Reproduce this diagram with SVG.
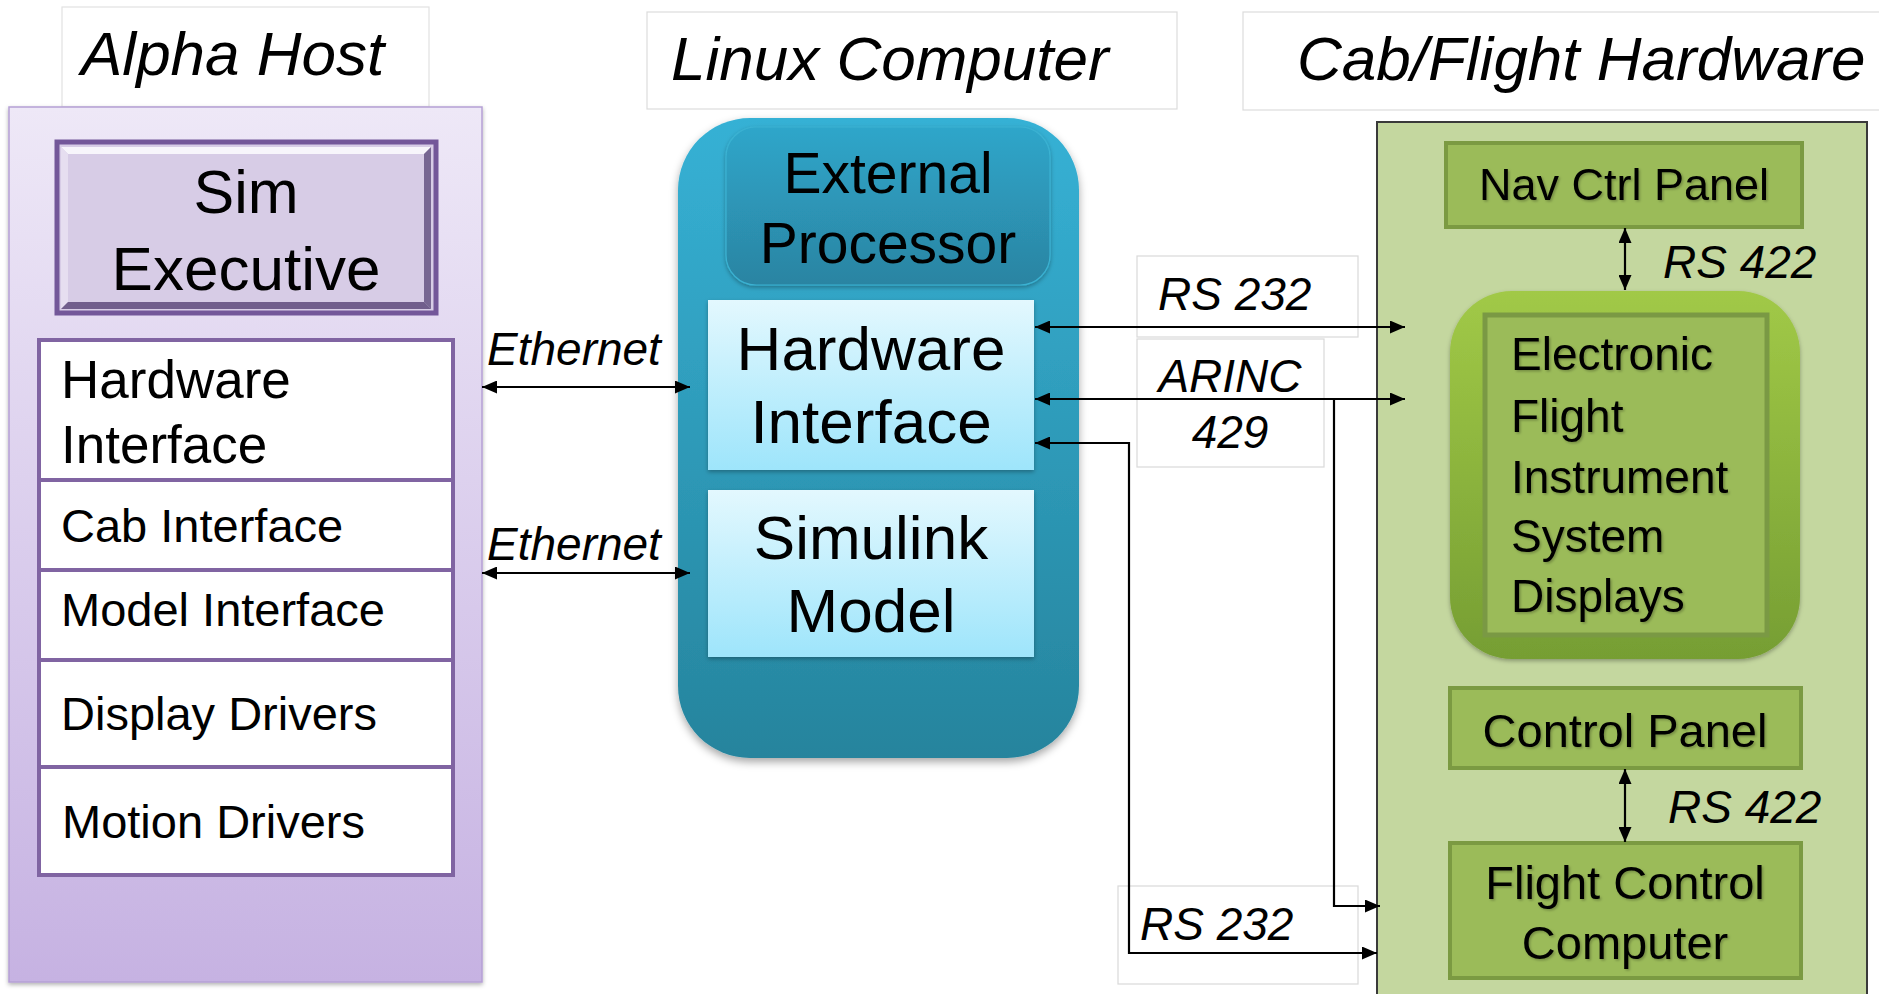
<svg xmlns="http://www.w3.org/2000/svg" width="1879" height="994" viewBox="0 0 1879 994">
<style>
text{font-family:"Liberation Sans",Arial,sans-serif;fill:#000}
.ti{font-style:italic;font-size:62px}
.it{font-style:italic}
.lbl{fill:#fff;stroke:#d9d9d9;stroke-width:1.2}
.row{fill:#fff;stroke:#8064a2;stroke-width:4}
.gbox{fill:#9bbb59;stroke:#7b9a42;stroke-width:4}
.conn{fill:none;stroke:#000;stroke-width:2.2}
.m{text-anchor:middle}
.gt{filter:url(#tsh)}
</style>
<defs>
<linearGradient id="gAlpha" x1="0" y1="0" x2="0" y2="1"><stop offset="0" stop-color="#eee8f7"/><stop offset="1" stop-color="#c6b2e2"/></linearGradient>
<linearGradient id="gLinux" x1="0" y1="0" x2="0" y2="1"><stop offset="0" stop-color="#36b1d5"/><stop offset="1" stop-color="#26849d"/></linearGradient>
<linearGradient id="gExt" x1="0" y1="0" x2="0" y2="1"><stop offset="0" stop-color="#2fa6ca"/><stop offset="1" stop-color="#2b84a2"/></linearGradient>
<linearGradient id="gLight" x1="0" y1="0" x2="0" y2="1"><stop offset="0" stop-color="#e3f8fe"/><stop offset="1" stop-color="#9ee5fb"/></linearGradient>
<linearGradient id="gEfis" x1="0" y1="0" x2="0" y2="1"><stop offset="0" stop-color="#a1c947"/><stop offset="1" stop-color="#769e33"/></linearGradient>
<filter id="sh" x="-10%" y="-10%" width="120%" height="120%"><feDropShadow dx="0" dy="4" stdDeviation="4" flood-color="#000" flood-opacity="0.35"/></filter>
<filter id="shs" x="-10%" y="-10%" width="120%" height="120%"><feDropShadow dx="0" dy="2" stdDeviation="2" flood-color="#000" flood-opacity="0.3"/></filter>
<filter id="tsh" x="-5%" y="-10%" width="110%" height="130%"><feDropShadow dx="1.5" dy="1.5" stdDeviation="1" flood-color="#000" flood-opacity="0.25"/></filter>
<marker id="ah" viewBox="0 0 15 13" refX="15" refY="6.5" markerWidth="15" markerHeight="13" markerUnits="userSpaceOnUse" orient="auto-start-reverse"><path d="M0,0 L15,6.5 L0,13 z" fill="#000"/></marker>
</defs>

<!-- Titles -->
<g id="title-alpha"><rect x="62" y="7" width="367" height="100" fill="#fff" stroke="#e2e2e2" stroke-width="1.2"/><text class="ti" x="81" y="75" font-size="63">Alpha Host</text></g>
<g id="title-linux"><rect x="647" y="12" width="530" height="97" fill="#fff" stroke="#dcdcdc" stroke-width="1.2"/><text class="ti" x="671" y="80">Linux Computer</text></g>
<g id="title-cab"><rect x="1243" y="12" width="650" height="98" fill="#fff" stroke="#dcdcdc" stroke-width="1.2"/><text class="ti" x="1297" y="80">Cab/Flight Hardware</text></g>

<!-- Alpha Host -->
<g id="alpha-host">
<rect x="9" y="107" width="473" height="875" fill="url(#gAlpha)" stroke="#b5a0d5" stroke-width="1.5" filter="url(#shs)"/>
</g>
<g id="sim-executive">
<rect x="57" y="142" width="379" height="171" fill="#d7cce6" stroke="#735799" stroke-width="5"/>
<path d="M61,147 L431,147 L424,154 L68,154 Z" fill="#fbf9fd" opacity="0.9"/>
<path d="M61,147 L68,154 L68,302 L61,309 Z" fill="#e6def0"/>
<path d="M431,147 L431,309 L424,302 L424,154 Z" fill="#4f3a6e" opacity="0.7"/>
<path d="M61,309 L431,309 L424,302 L68,302 Z" fill="#4f3a6e" opacity="0.75"/>
<text class="m" x="246" y="213" font-size="61">Sim</text>
<text class="m" x="246" y="290" font-size="62">Executive</text>
</g>
<g id="alpha-hw-interface"><rect class="row" x="39" y="340" width="414" height="140"/><text x="61" y="398" font-size="53">Hardware</text><text x="61" y="463" font-size="53">Interface</text></g>
<g id="alpha-cab-interface"><rect class="row" x="39" y="480" width="414" height="90"/><text x="61" y="542" font-size="47">Cab Interface</text></g>
<g id="alpha-model-interface"><rect class="row" x="39" y="570" width="414" height="90"/><text x="61" y="626" font-size="47">Model Interface</text></g>
<g id="alpha-display-drivers"><rect class="row" x="39" y="660" width="414" height="107"/><text x="61" y="730" font-size="47">Display Drivers</text></g>
<g id="alpha-motion-drivers"><rect class="row" x="39" y="767" width="414" height="108"/><text x="62" y="838" font-size="47">Motion Drivers</text></g>

<!-- Linux Computer -->
<g id="linux-computer"><rect x="678" y="118" width="401" height="640" rx="72" fill="url(#gLinux)" filter="url(#sh)"/></g>
<g id="external-processor">
<rect x="726" y="127" width="324" height="158" rx="30" fill="url(#gExt)" stroke="#3bb2d2" stroke-width="1.2" filter="url(#shs)"/>
<text class="m" x="888" y="193" font-size="57">External</text>
<text class="m" x="888" y="263" font-size="57">Processor</text>
</g>
<g id="linux-hw-interface">
<rect x="708" y="300" width="326" height="170" fill="url(#gLight)" filter="url(#shs)"/>
<text class="m" x="871" y="370" font-size="62">Hardware</text>
<text class="m" x="871" y="443" font-size="62">Interface</text>
</g>
<g id="simulink-model">
<rect x="708" y="490" width="326" height="167" fill="url(#gLight)" filter="url(#shs)"/>
<text class="m" x="871" y="559" font-size="62">Simulink</text>
<text class="m" x="871" y="632" font-size="62">Model</text>
</g>

<!-- Cab/Flight Hardware -->
<g id="cab-flight-hardware"><rect x="1377" y="122" width="490" height="880" fill="#c4d79f" stroke="#3a3a3a" stroke-width="2"/></g>
<g id="nav-ctrl-panel"><rect class="gbox" x="1446" y="143" width="356" height="84"/><text class="m gt" x="1624" y="200" font-size="45">Nav Ctrl Panel</text></g>
<g id="efis">
<rect x="1450" y="291" width="350" height="368" rx="62" fill="url(#gEfis)" filter="url(#shs)"/>
<rect x="1485" y="315" width="282" height="320" fill="#9bbb59" stroke="#7a9944" stroke-width="5"/>
<text class="gt" x="1511" y="370" font-size="46">Electronic</text>
<text class="gt" x="1511" y="432" font-size="46">Flight</text>
<text class="gt" x="1511" y="493" font-size="46">Instrument</text>
<text class="gt" x="1511" y="552" font-size="46">System</text>
<text class="gt" x="1511" y="612" font-size="46">Displays</text>
</g>
<g id="control-panel"><rect class="gbox" x="1450" y="688" width="351" height="80"/><text class="m gt" x="1625" y="747" font-size="47">Control Panel</text></g>
<g id="flight-control-computer"><rect class="gbox" x="1450" y="843" width="351" height="135"/><text class="m gt" x="1625" y="899" font-size="47">Flight Control</text><text class="m gt" x="1625" y="959" font-size="47">Computer</text></g>

<!-- Label boxes -->
<g id="label-rs232-top"><rect class="lbl" x="1137" y="256" width="221" height="81"/><text class="it" x="1158" y="310" font-size="46">RS 232</text></g>
<g id="label-arinc"><rect class="lbl" x="1137" y="339" width="187" height="128"/><text class="it m" x="1230" y="392" font-size="46">ARINC</text><text class="it m" x="1230" y="448" font-size="46">429</text></g>
<g id="label-rs232-bottom"><rect class="lbl" x="1118" y="886" width="240" height="98"/><text class="it" x="1140" y="940" font-size="46">RS 232</text></g>

<!-- Connectors -->
<g id="connectors">
<path class="conn" d="M482,387 L690,387" marker-start="url(#ah)" marker-end="url(#ah)"/>
<text class="it" x="487" y="365" font-size="46">Ethernet</text>
<path class="conn" d="M482,573 L690,573" marker-start="url(#ah)" marker-end="url(#ah)"/>
<text class="it" x="487" y="560" font-size="46">Ethernet</text>
<path class="conn" d="M1035,327 L1405,327" marker-start="url(#ah)" marker-end="url(#ah)"/>
<path class="conn" d="M1035,399 L1405,399" marker-start="url(#ah)" marker-end="url(#ah)"/>
<path class="conn" d="M1334,399 L1334,906 L1380,906" marker-end="url(#ah)"/>
<path class="conn" d="M1035,443 L1129,443 L1129,953 L1377,953" marker-start="url(#ah)" marker-end="url(#ah)"/>
<path class="conn" d="M1625,228 L1625,290" marker-start="url(#ah)" marker-end="url(#ah)"/>
<text class="it" x="1663" y="278" font-size="46">RS 422</text>
<path class="conn" d="M1625,769 L1625,842" marker-start="url(#ah)" marker-end="url(#ah)"/>
<text class="it" x="1668" y="823" font-size="46">RS 422</text>
</g>
</svg>
